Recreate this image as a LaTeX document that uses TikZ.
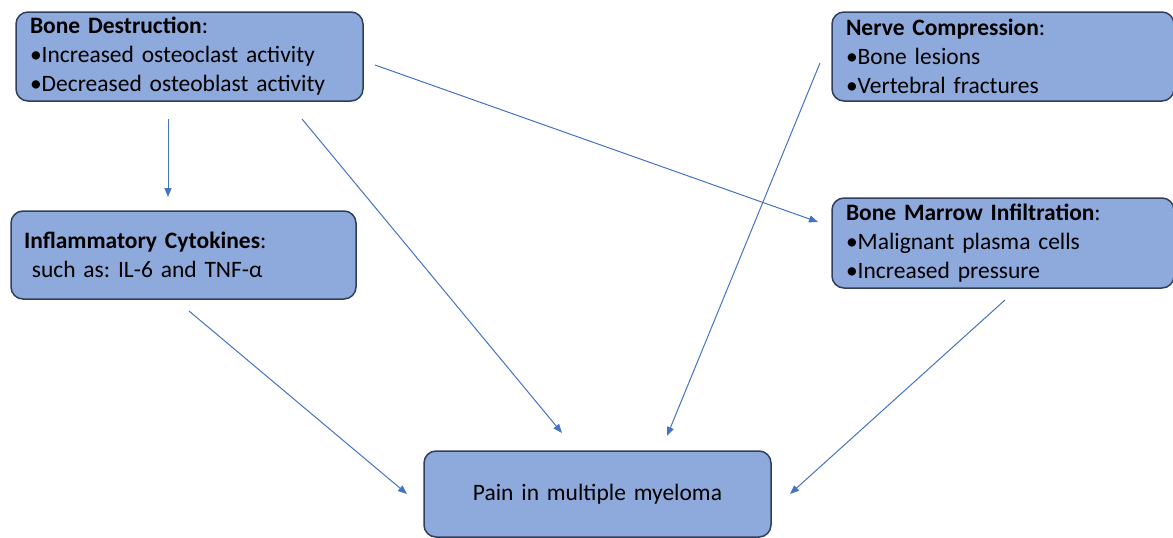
\documentclass[tikz,border=0pt]{standalone}
\usepackage{fontspec}
\setmainfont{Carlito}
\usetikzlibrary{arrows.meta}
\definecolor{boxfill}{RGB}{142,169,219}
\definecolor{boxline}{RGB}{47,62,92}
\definecolor{arr}{RGB}{68,114,196}
\frenchspacing
\begin{document}
\begin{tikzpicture}[x=1pt,y=-1pt,
  box/.style={draw=boxline, line width=1.5pt, fill=boxfill, rounded corners=12pt,
    align=left, inner xsep=14pt, inner ysep=0pt,
    font=\fontsize{23.5}{29}\selectfont\frenchspacing, anchor=center},
  conn/.style={draw=arr, line width=1pt, -{Triangle[length=9pt,width=7pt]}}]
\useasboundingbox (0,0) rectangle (1173,538);

\node[box, text width=319pt, minimum height=89pt] (bd) at (189.5,56.5)
  {\textbf{Bone Destruction}:\\•Increased osteoclast activity\\•Decreased osteoblast activity};
\node[box, text width=314pt, minimum height=89pt] (nc) at (1003,56.5)
  {\textbf{Nerve Compression}:\\•Bone lesions\\•Vertebral fractures};
\node[box, text width=319pt, minimum height=88pt, inner xsep=13pt] (ic) at (183.5,255)
  {\textbf{Inflammatory Cytokines}:\\\ such as: IL-6 and TNF-α};
\node[box, text width=314pt, minimum height=90pt] (bm) at (1003,243)
  {\textbf{Bone Marrow Infiltration}:\\•Malignant plasma cells\\•Increased pressure};
\node[box, text width=319pt, minimum height=86pt, align=center] (pm) at (597.5,494)
  {Pain in multiple myeloma};

\coordinate (a1s) at (168,119);  \coordinate (a1e) at (168,197);
\coordinate (a2s) at (302,119);  \coordinate (a2e) at (562,433);
\coordinate (a3s) at (375,65);   \coordinate (a3e) at (818,222);
\coordinate (a4s) at (820,63);   \coordinate (a4e) at (667,436);
\coordinate (a5s) at (189,311);  \coordinate (a5e) at (407,494);
\coordinate (a6s) at (1005,300); \coordinate (a6e) at (790,494);

\draw[conn] (a1s) -- (a1e);
\draw[conn] (a2s) -- (a2e);
\draw[conn] (a3s) -- (a3e);
\draw[conn] (a4s) -- (a4e);
\draw[conn] (a5s) -- (a5e);
\draw[conn] (a6s) -- (a6e);
\end{tikzpicture}
\end{document}
